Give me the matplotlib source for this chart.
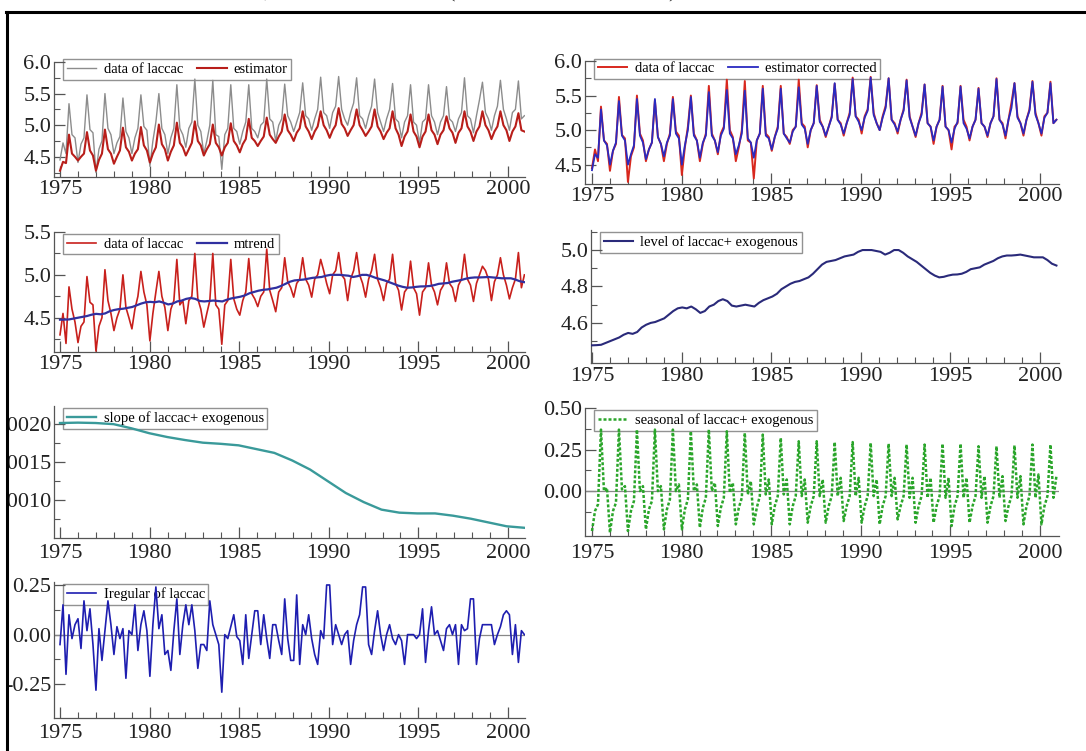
import numpy as np
import matplotlib
matplotlib.use('Agg')
import matplotlib.pyplot as plt
from matplotlib.patches import Rectangle
from matplotlib.lines import Line2D
from matplotlib.ticker import FixedLocator, FormatStrFormatter

plt.rcParams['font.family'] = ['Liberation Serif', 'DejaVu Serif']
plt.rcParams['axes.unicode_minus'] = False

# ---- data (6 values per year: Jan, Mar, May, Jul, Sep, Nov) ----
data_laccac = [
    4.45, 4.72, 4.55, 5.34, 4.85, 4.80,
    4.41, 4.70, 4.80, 5.48, 4.93, 4.88,
    4.25, 4.62, 4.75, 5.50, 4.95, 4.85,
    4.55, 4.72, 4.82, 5.43, 4.90, 4.80,
    4.55, 4.80, 4.95, 5.48, 4.98, 4.92,
    4.35, 4.75, 5.05, 5.50, 4.95, 4.85,
    4.55, 4.80, 4.95, 5.64, 4.95, 4.85,
    4.65, 4.95, 5.05, 5.73, 5.00, 4.90,
    4.55, 4.75, 5.00, 5.71, 4.85, 4.82,
    4.30, 4.85, 4.95, 5.64, 4.95, 4.90,
    4.70, 4.90, 5.05, 5.64, 4.95, 4.90,
    4.80, 5.00, 5.05, 5.73, 5.10, 5.05,
    4.75, 5.00, 5.10, 5.65, 5.15, 5.05,
    4.90, 5.05, 5.20, 5.67, 5.15, 5.10,
    4.92, 5.10, 5.25, 5.76, 5.20, 5.15,
    4.95, 5.20, 5.30, 5.77, 5.25, 5.10,
    5.00, 5.20, 5.35, 5.75, 5.15, 5.10,
    4.95, 5.15, 5.30, 5.73, 5.20, 5.05,
    4.90, 5.10, 5.25, 5.66, 5.10, 5.05,
    4.80, 5.05, 5.15, 5.64, 5.05, 5.00,
    4.72, 5.05, 5.10, 5.64, 5.15, 5.05,
    4.85, 5.05, 5.15, 5.61, 5.10, 5.05,
    4.90, 5.10, 5.20, 5.75, 5.15, 5.10,
    4.88, 5.15, 5.40, 5.68, 5.20, 5.10,
    4.92, 5.15, 5.30, 5.71, 5.25, 5.10,
    4.92, 5.20, 5.25, 5.70, 5.10, 5.15,
]

estimator = [
    4.28, 4.42, 4.40, 4.85, 4.55, 4.50,
    4.44, 4.50, 4.55, 4.89, 4.60, 4.52,
    4.28, 4.45, 4.55, 4.93, 4.62, 4.55,
    4.39, 4.50, 4.60, 4.96, 4.65, 4.58,
    4.44, 4.55, 4.62, 4.97, 4.68, 4.60,
    4.41, 4.55, 4.65, 5.01, 4.70, 4.62,
    4.44, 4.58, 4.68, 5.04, 4.72, 4.65,
    4.52, 4.62, 4.72, 5.06, 4.75, 4.68,
    4.52, 4.62, 4.70, 5.01, 4.72, 4.65,
    4.52, 4.65, 4.72, 5.03, 4.75, 4.68,
    4.57, 4.70, 4.78, 5.10, 4.80, 4.75,
    4.67, 4.75, 4.82, 5.12, 4.85, 4.78,
    4.72, 4.82, 4.90, 5.17, 4.92, 4.85,
    4.75, 4.88, 4.95, 5.22, 4.98, 4.90,
    4.78, 4.90, 4.98, 5.22, 5.00, 4.92,
    4.80, 4.92, 5.00, 5.27, 5.02, 4.95,
    4.83, 4.92, 5.00, 5.25, 5.00, 4.92,
    4.83, 4.90, 4.98, 5.25, 4.98, 4.90,
    4.78, 4.88, 4.95, 5.22, 4.95, 4.85,
    4.67, 4.82, 4.90, 5.17, 4.90, 4.82,
    4.65, 4.82, 4.90, 5.17, 4.92, 4.85,
    4.70, 4.85, 4.92, 5.14, 4.95, 4.88,
    4.72, 4.88, 4.95, 5.22, 4.98, 4.90,
    4.75, 4.90, 4.98, 5.22, 5.00, 4.92,
    4.78, 4.90, 4.98, 5.22, 5.00, 4.92,
    4.75, 4.90, 4.98, 5.19, 4.92, 4.90,
]

estimator_corrected = [
    4.42, 4.65, 4.60, 5.30, 4.85, 4.78,
    4.50, 4.70, 4.82, 5.42, 4.92, 4.85,
    4.50, 4.65, 4.78, 5.45, 4.92, 4.82,
    4.58, 4.72, 4.82, 5.45, 4.90, 4.80,
    4.62, 4.82, 4.92, 5.45, 4.95, 4.88,
    4.50, 4.78, 5.00, 5.48, 4.92, 4.85,
    4.60, 4.82, 4.92, 5.55, 4.92, 4.85,
    4.68, 4.92, 5.02, 5.58, 4.95, 4.88,
    4.65, 4.78, 4.95, 5.57, 4.88, 4.82,
    4.60, 4.85, 4.95, 5.60, 4.92, 4.88,
    4.72, 4.90, 5.02, 5.60, 4.95, 4.88,
    4.82, 4.98, 5.05, 5.62, 5.08, 5.02,
    4.80, 5.00, 5.10, 5.64, 5.12, 5.05,
    4.92, 5.05, 5.18, 5.68, 5.15, 5.08,
    4.95, 5.10, 5.22, 5.74, 5.20, 5.12,
    5.00, 5.18, 5.28, 5.76, 5.22, 5.10,
    5.00, 5.18, 5.32, 5.75, 5.15, 5.08,
    4.98, 5.15, 5.28, 5.72, 5.18, 5.05,
    4.92, 5.10, 5.22, 5.66, 5.10, 5.05,
    4.85, 5.05, 5.15, 5.63, 5.05, 5.00,
    4.82, 5.02, 5.12, 5.63, 5.10, 5.02,
    4.88, 5.05, 5.15, 5.60, 5.10, 5.05,
    4.92, 5.10, 5.20, 5.74, 5.15, 5.08,
    4.92, 5.15, 5.32, 5.68, 5.18, 5.10,
    4.95, 5.15, 5.28, 5.70, 5.22, 5.10,
    4.95, 5.18, 5.25, 5.68, 5.10, 5.15,
]

data_laccac_adj = [
    4.30, 4.55, 4.20, 4.86, 4.60, 4.45,
    4.21, 4.40, 4.45, 4.98, 4.68, 4.65,
    4.11, 4.40, 4.50, 5.06, 4.70, 4.55,
    4.35, 4.50, 4.60, 5.00, 4.62, 4.50,
    4.37, 4.60, 4.75, 5.04, 4.80, 4.65,
    4.23, 4.55, 4.80, 5.04, 4.75, 4.62,
    4.35, 4.60, 4.70, 5.18, 4.65, 4.70,
    4.43, 4.70, 4.75, 5.25, 4.72, 4.60,
    4.39, 4.55, 4.70, 5.25, 4.65, 4.60,
    4.19, 4.65, 4.70, 5.18, 4.72, 4.60,
    4.53, 4.70, 4.80, 5.19, 4.78, 4.72,
    4.63, 4.75, 4.80, 5.30, 4.82, 4.70,
    4.57, 4.80, 4.85, 5.20, 4.92, 4.85,
    4.74, 4.90, 4.95, 5.20, 4.95, 4.88,
    4.74, 4.95, 5.00, 5.18, 5.05, 4.90,
    4.78, 5.00, 5.05, 5.26, 5.00, 4.95,
    4.70, 4.95, 5.05, 5.26, 5.00, 4.90,
    4.74, 4.95, 5.05, 5.24, 4.95, 4.85,
    4.70, 4.90, 4.95, 5.24, 4.90, 4.82,
    4.59, 4.80, 4.85, 5.16, 4.85, 4.78,
    4.53, 4.80, 4.85, 5.14, 4.88, 4.80,
    4.65, 4.82, 4.88, 5.14, 4.90, 4.85,
    4.69, 4.88, 4.95, 5.24, 4.95, 4.88,
    4.69, 4.90, 5.00, 5.10, 5.05, 4.95,
    4.70, 4.92, 5.00, 5.20, 5.00, 4.88,
    4.72, 4.85, 4.95, 5.26, 4.85, 5.00,
]

seasonal = [
    -0.24, -0.12, -0.08, 0.37, 0.00, 0.02,
    -0.25, -0.12, -0.07, 0.37, 0.01, 0.03,
    -0.24, -0.12, -0.06, 0.37, 0.00, 0.03,
    -0.23, -0.11, -0.06, 0.37, 0.00, 0.03,
    -0.23, -0.11, -0.05, 0.37, 0.00, 0.04,
    -0.23, -0.11, -0.05, 0.36, 0.00, 0.04,
    -0.22, -0.10, -0.04, 0.37, 0.00, 0.05,
    -0.21, -0.10, -0.04, 0.36, -0.01, 0.05,
    -0.20, -0.10, -0.04, 0.35, -0.02, 0.06,
    -0.20, -0.10, -0.03, 0.34, -0.02, 0.07,
    -0.20, -0.09, -0.03, 0.32, -0.02, 0.07,
    -0.20, -0.09, -0.03, 0.30, -0.03, 0.07,
    -0.19, -0.09, -0.03, 0.30, -0.03, 0.07,
    -0.19, -0.09, -0.03, 0.295, -0.03, 0.08,
    -0.18, -0.09, -0.03, 0.295, -0.03, 0.08,
    -0.19, -0.09, -0.03, 0.29, -0.03, 0.07,
    -0.20, -0.09, -0.03, 0.285, -0.03, 0.08,
    -0.17, -0.09, -0.03, 0.28, -0.04, 0.08,
    -0.19, -0.09, -0.03, 0.28, -0.04, 0.08,
    -0.19, -0.09, -0.03, 0.285, -0.04, 0.08,
    -0.21, -0.09, -0.03, 0.285, -0.04, 0.08,
    -0.19, -0.09, -0.03, 0.27, -0.04, 0.09,
    -0.19, -0.09, -0.03, 0.27, -0.04, 0.09,
    -0.18, -0.09, -0.03, 0.275, -0.04, 0.09,
    -0.20, -0.09, -0.03, 0.28, -0.04, 0.10,
    -0.20, -0.09, -0.03, 0.28, -0.04, 0.09,
]

irregular = [
    -0.05, 0.15, -0.20, 0.10, -0.02, 0.05,
    0.08, -0.07, 0.17, 0.02, 0.13, -0.05,
    -0.28, 0.03, -0.13, 0.02, 0.17, 0.05,
    -0.10, 0.04, -0.02, 0.03, -0.22, 0.02,
    0.00, 0.15, -0.08, 0.05, 0.12, 0.02,
    -0.21, 0.05, 0.24, 0.03, 0.10, -0.10,
    -0.08, -0.18, 0.02, 0.18, -0.10, 0.05,
    0.15, 0.05, 0.15, 0.02, -0.17, -0.05,
    -0.05, -0.08, 0.17, 0.05, 0.00, -0.05,
    -0.29, 0.00, -0.02, 0.04, 0.10, -0.01,
    -0.03, -0.15, 0.10, -0.12, 0.00, 0.12,
    0.12, -0.05, 0.10, -0.02, -0.12, 0.05,
    0.05, -0.03, -0.10, 0.18, -0.02, -0.13,
    -0.13, 0.20, -0.15, 0.05, 0.00, 0.10,
    -0.02, -0.10, -0.15, 0.02, -0.02, 0.25,
    0.25, -0.05, 0.05, 0.00, -0.05, 0.00,
    0.02, -0.15, -0.03, 0.05, 0.10, 0.24,
    0.24, -0.05, -0.10, 0.02, 0.12, 0.00,
    -0.08, 0.00, 0.05, -0.02, -0.05, 0.00,
    -0.03, -0.15, 0.00, 0.00, 0.00, -0.02,
    0.00, 0.13, -0.14, 0.02, 0.14, 0.00,
    0.02, -0.03, -0.08, 0.03, 0.05, 0.00,
    0.05, -0.15, 0.05, 0.02, 0.03, 0.18,
    0.18, -0.15, -0.02, 0.05, 0.05, 0.05,
    0.05, -0.05, 0.00, 0.04, 0.10, 0.12,
    0.10, -0.10, 0.05, -0.14, 0.02, 0.00,
]

# quarterly level (also the mtrend)
level = [
    4.477, 4.478, 4.48, 4.49, 4.50, 4.51, 4.52, 4.535,
    4.545, 4.54, 4.55, 4.575, 4.59, 4.60, 4.605, 4.615,
    4.625, 4.645, 4.665, 4.68, 4.685, 4.68, 4.69, 4.675,
    4.655, 4.665, 4.69, 4.70, 4.72, 4.73, 4.72, 4.695,
    4.69, 4.695, 4.70, 4.695, 4.69, 4.71, 4.725, 4.735,
    4.745, 4.76, 4.785, 4.80, 4.815, 4.825, 4.83, 4.84,
    4.85, 4.87, 4.895, 4.92, 4.935, 4.94, 4.945, 4.955,
    4.965, 4.97, 4.975, 4.99, 5.00, 5.00, 5.00, 4.995,
    4.99, 4.975, 4.985, 5.00, 5.00, 4.985, 4.965, 4.95,
    4.935, 4.915, 4.895, 4.875, 4.86, 4.85, 4.853, 4.86,
    4.865, 4.866, 4.87, 4.88, 4.895, 4.90, 4.905, 4.92,
    4.93, 4.94, 4.955, 4.965, 4.97, 4.97, 4.972, 4.975,
    4.97, 4.965, 4.96, 4.96, 4.96, 4.945, 4.925, 4.915,
]

# yearly slope
slope = [
    0.002015, 0.00202, 0.002015, 0.00200, 0.001945, 0.00188, 0.00183,
    0.00179, 0.001755, 0.00174, 0.00172, 0.00167, 0.00162, 0.00152,
    0.00140, 0.001245, 0.00109, 0.00097, 0.00087, 0.00083, 0.00082,
    0.00082, 0.00079, 0.00075, 0.00070, 0.00065, 0.00063,
]

END = 2000 + 11 / 12
t6 = np.linspace(1975, END, len(data_laccac))
tq = np.linspace(1975, END, len(level))
ty = np.linspace(1975, END, len(slope))

W, H = 1086, 751
fig = plt.figure(figsize=(W / 100, H / 100), dpi=100)


def rect(l, t, r, b):
    return [l / W, 1 - b / H, (r - l) / W, (b - t) / H]


AX_COL = '#555555'


def style(ax, xlim, ylim, yticks, yminor, fmt, xpad=2):
    for s in ('top', 'right'):
        ax.spines[s].set_visible(False)
    for s in ('left', 'bottom'):
        ax.spines[s].set_color(AX_COL)
        ax.spines[s].set_linewidth(0.9)
    ax.set_xlim(*xlim)
    ax.set_ylim(*ylim)
    ax.xaxis.set_major_locator(FixedLocator([1975, 1980, 1985, 1990, 1995, 2000]))
    ax.xaxis.set_minor_locator(FixedLocator(list(range(1975, 2001))))
    ax.yaxis.set_major_locator(FixedLocator(yticks))
    ax.yaxis.set_minor_locator(FixedLocator(yminor))
    ax.yaxis.set_major_formatter(FormatStrFormatter(fmt))
    ax.tick_params(which='major', direction='in', length=8, width=0.9,
                   color=AX_COL, labelsize=16, labelcolor='#222222')
    ax.tick_params(which='minor', direction='in', length=4, width=0.8, color=AX_COL)
    ax.tick_params(axis='x', which='major', pad=xpad)
    ax.tick_params(axis='y', which='major', pad=2)
    ax.patch.set_alpha(0)


def legend(ax, ncol=1, top=0.985):
    lg = ax.legend(loc='upper left', bbox_to_anchor=(0.02, top), ncol=ncol,
                   fontsize=10.5, frameon=True, fancybox=False, borderaxespad=0,
                   handlelength=2.0, handletextpad=0.5, columnspacing=1.0,
                   borderpad=0.25)
    fr = lg.get_frame()
    fr.set_facecolor('none')
    fr.set_edgecolor('#777777')
    fr.set_linewidth(1.0)
    lg.set_zorder(1)
    return lg


XL = (1974.665, 2000.95)
XR = (1974.61, 2001.06)

# panel 1
ax1 = fig.add_axes(rect(54, 62, 525, 177))
ax1.plot(t6, data_laccac, color='#8c8c8c', lw=1.0, label='data of laccac', zorder=3)
ax1.plot(t6, estimator, color='#b81e1a', lw=1.5, label='estimator', zorder=4)
style(ax1, XL, (4.18, 6.0), [4.5, 5.0, 5.5, 6.0], [4.25, 4.75, 5.25, 5.75], '%.1f')
legend(ax1, ncol=2, top=1.025)

# panel 2
ax2 = fig.add_axes(rect(585, 61, 1059, 184))
ax2.plot(t6, data_laccac, color='#d8281e', lw=1.4, label='data of laccac', zorder=3)
ax2.plot(t6, estimator_corrected, color='#2a2ac0', lw=1.3, label='estimator corrected', zorder=4)
style(ax2, XR, (4.22, 6.0), [4.5, 5.0, 5.5, 6.0], [4.75, 5.25, 5.75], '%.1f')
legend(ax2, ncol=2, top=1.02)

# panel 3
ax3 = fig.add_axes(rect(54, 232, 525, 352))
ax3.plot(t6, data_laccac_adj, color='#c8201c', lw=1.2, label='data of laccac', zorder=3)
ax3.plot(tq, level, color='#3030a0', lw=1.6, label='mtrend', zorder=4)
style(ax3, XL, (4.1, 5.5), [4.5, 5.0, 5.5], [4.25, 4.75, 5.25], '%.1f')
legend(ax3, ncol=2)

# panel 4
ax4 = fig.add_axes(rect(591, 230, 1059, 363))
ax4.plot(tq, level, color='#2a2a7a', lw=1.5, label='level of laccac+ exogenous', zorder=3)
style(ax4, (1974.94, 2001.06), (4.38, 5.11), [4.6, 4.8, 5.0], [4.5, 4.7, 4.9, 5.1], '%.1f',
      xpad=3)
legend(ax4)

# panel 5
ax5 = fig.add_axes(rect(54, 406, 525, 538))
ax5.plot(ty, slope, color='#3a9a9a', lw=1.7, label='slope of laccac+ exogenous', zorder=3)
style(ax5, XL, (0.000495, 0.00224), [0.0010, 0.0015, 0.0020],
      [0.00075, 0.00125, 0.00175], '%.4f', xpad=4)
legend(ax5)

# panel 6
ax6 = fig.add_axes(rect(585, 408, 1059, 536))
ax6.axhline(0, color='#888888', lw=0.9, zorder=2)
ax6.plot(t6, seasonal, color='#2aa52a', lw=1.8, ls=(0, (1.2, 0.8)),
         label='seasonal of laccac+ exogenous', zorder=3)
style(ax6, XR, (-0.27, 0.50), [0.0, 0.25, 0.50], [-0.125, 0.125, 0.375], '%.2f', xpad=6)
legend(ax6)

# panel 7
ax7 = fig.add_axes(rect(54, 582, 525, 718))
ax7.axhline(0, color='#888888', lw=0.9, zorder=2)
ax7.plot(t6, irregular, color='#1e1eb0', lw=1.2, label='Iregular of laccac', zorder=3)
style(ax7, XL, (-0.42, 0.265), [-0.25, 0.0, 0.25], [-0.125, 0.125], '%.2f', xpad=4)
legend(ax7)

# bits of a cut-off title line above the frame
for xp, ch in [(266, ','), (452, '('), (672, ')')]:
    fig.text(xp / W, 1 + 3 / H, ch, fontsize=16, va='baseline', ha='center', color='#333333')

# white margin + frame lines on top
fig.add_artist(Rectangle((0, 0), 6.5 / W, 1, transform=fig.transFigure,
                         facecolor='white', edgecolor='none', zorder=50))
fig.add_artist(Line2D([7 / W, 7 / W], [0, 1 - 12 / H], transform=fig.transFigure,
                      color='black', lw=2.2, zorder=51))
fig.add_artist(Line2D([6 / W, 1], [1 - 12 / H, 1 - 12 / H], transform=fig.transFigure,
                      color='black', lw=2.2, zorder=51))

fig.savefig('out.png', dpi=100)
